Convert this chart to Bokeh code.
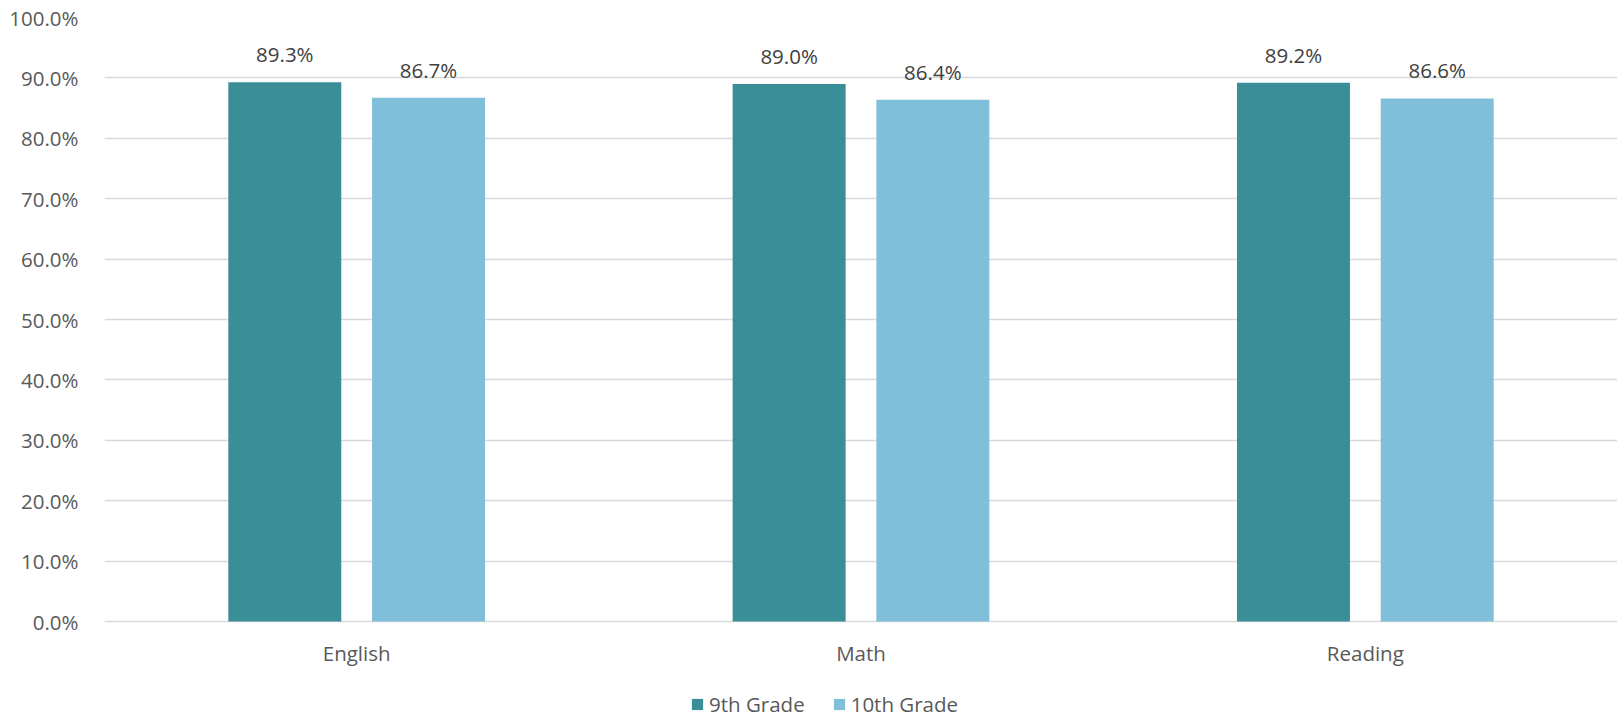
from bokeh.plotting import figure
from bokeh.models import ColumnDataSource, FactorRange, Range1d, Legend, LegendItem, NumeralTickFormatter, FixedTicker
from bokeh.transform import dodge
from bokeh.core.properties import value
from bokeh.embed import file_html
from bokeh.resources import INLINE

categories = ["English", "Math", "Reading"]
grade9 = [0.893, 0.890, 0.892]
grade10 = [0.867, 0.864, 0.866]
series_names = ["9th Grade", "10th Grade"]
y_ticks = [0.0, 0.1, 0.2, 0.3, 0.4, 0.5, 0.6, 0.7, 0.8, 0.9, 1.0]

FONT = "Open Sans"
FS = "20.5px"
C9 = "#3a8e97"
C10 = "#80bfda"
TXT = "#595959"

src = ColumnDataSource(dict(
    cat=categories,
    g9=grade9,
    g10=grade10,
    l9=[f"{v*100:.1f}%" for v in grade9],
    l10=[f"{v*100:.1f}%" for v in grade10],
    zero=[0.0] * len(categories),
))

# frame extends below 0% to hold category labels and the legend
p = figure(
    frame_width=1513, frame_height=701,
    x_range=FactorRange(factors=categories, range_padding=0),
    y_range=Range1d(-97 / 604, 1.0),
    output_backend="svg", toolbar_location=None,
    min_border_left=104, min_border_right=0, min_border_top=17, min_border_bottom=0,
)
p.outline_line_color = None

r9 = p.vbar(x=dodge("cat", -0.1425, range=p.x_range), top="g9", width=0.224,
            source=src, fill_color=C9, line_color=None)
r10 = p.vbar(x=dodge("cat", 0.1425, range=p.x_range), top="g10", width=0.224,
             source=src, fill_color=C10, line_color=None)

for col, off in (("l9", -0.1425), ("l10", 0.1425)):
    top = "g9" if col == "l9" else "g10"
    p.text(x=dodge("cat", off, range=p.x_range), y=top, text=col, source=src,
           text_align="center", text_baseline="bottom", y_offset=-14,
           text_font=value(FONT), text_font_size=FS, text_color="#404040")

# category labels under the 0% baseline
p.text(x="cat", y="zero", text="cat", source=src,
       text_align="center", text_baseline="top", y_offset=17,
       text_font=value(FONT), text_font_size=FS, text_color=TXT)

p.yaxis.ticker = FixedTicker(ticks=y_ticks)
p.yaxis.formatter = NumeralTickFormatter(format="0.0%")
p.yaxis.axis_line_color = None
p.yaxis.major_tick_line_color = None
p.yaxis.minor_tick_line_color = None
p.yaxis.major_label_standoff = 20
p.yaxis.major_label_text_font = FONT
p.yaxis.major_label_text_font_size = FS
p.yaxis.major_label_text_color = TXT

p.xaxis.visible = False

p.xgrid.grid_line_color = None
p.ygrid.ticker = FixedTicker(ticks=y_ticks)
p.ygrid.grid_line_color = "#d9d9d9"
p.ygrid.grid_line_width = 1.5

legend = Legend(items=[LegendItem(label=series_names[0], renderers=[r9]),
                       LegendItem(label=series_names[1], renderers=[r10])],
                orientation="horizontal", location=(586, 0))
legend.label_text_font = FONT
legend.label_text_font_size = FS
legend.label_text_color = TXT
legend.glyph_width = 14
legend.glyph_height = 14
legend.label_standoff = 5
legend.spacing = 27
legend.border_line_color = None
legend.background_fill_alpha = 0
legend.padding = 0
legend.margin = 0
p.add_layout(legend, "center")

open("out.html", "w").write(file_html(p, INLINE))
